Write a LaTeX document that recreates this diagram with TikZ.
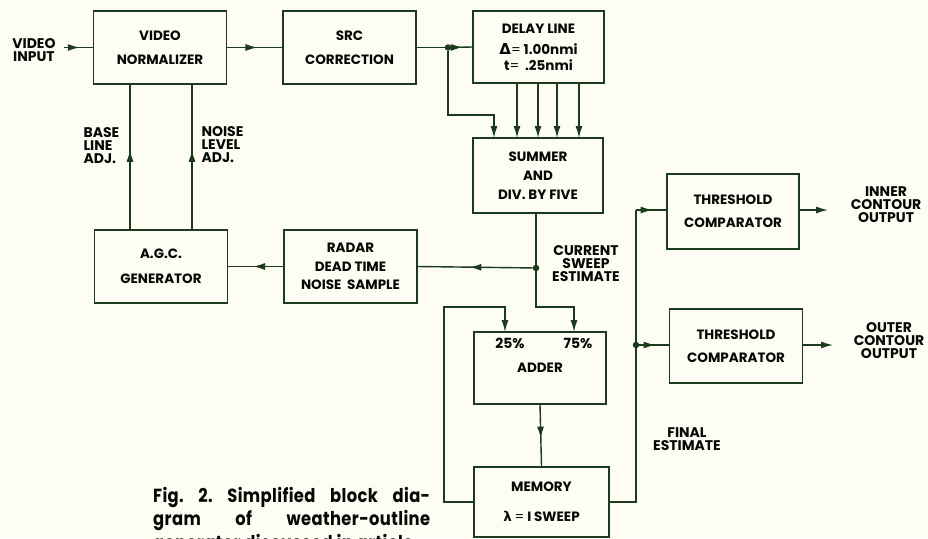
\documentclass[tikz,border=0pt]{standalone}
\usepackage{fontspec}
\setmainfont{Poppins}
\newfontfamily\grk{DejaVu Sans}
\newfontfamily\capfont[FakeStretch=0.86,LetterSpace=2]{Poppins}
\usetikzlibrary{arrows.meta,decorations.markings}
\definecolor{ink}{HTML}{1C3A1C}
\definecolor{paper}{HTML}{FDFDF4}
\tikzset{
  blk/.style={draw=ink, line width=1.6pt, minimum width=133pt, minimum height=73pt,
    align=center, text=black!85!ink, font=\bfseries\fontsize{13.5}{15}\selectfont},
  lbl/.style={align=center, text=black!85!ink, font=\bfseries\fontsize{14}{13}\selectfont},
  wire/.style={draw=ink, line width=1.4pt},
  arr/.style={wire, -{Latex[length=12pt,width=7pt]}},
  midarrow/.style={wire, postaction={decorate}, decoration={markings,
    mark=at position 0.55 with {\arrow{Latex[length=12pt,width=7pt]}}}},
  dot/.style={circle, fill=ink, inner sep=0pt, minimum size=6.5pt}
}
\begin{document}
\frenchspacing
\begin{tikzpicture}[x=1pt, y=-1pt]
    \fill[paper] (0,0) rectangle (928,538);
    \useasboundingbox (0,0) rectangle (928,538);
    \node[blk] (norm) at (160,47.5) {VIDEO\\[9pt]NORMALIZER};
    \node[blk] (src) at (349.5,47.5) {SRC\\[9pt]CORRECTION};
    \node[blk, minimum width=131pt, minimum height=72pt] (delay) at (538.5,47)
      {DELAY LINE\\[6pt]{\fontsize{15}{15}\selectfont{\grk\bfseries Δ}}{\mdseries =} 1.00nmi\\[1pt]t{\mdseries =}\ \ .25nmi};
    \node[blk, minimum width=130pt, minimum height=75pt] (summer) at (538,175.5)
      {SUMMER\\[4pt]AND\\[4pt]DIV. BY FIVE};
    \node[blk] (agc) at (161,266.5) {A.G.C.\\[10pt]GENERATOR};
    \node[blk] (radar) at (350.5,266.5) {RADAR\\[3.5pt]DEAD TIME\\[3.5pt]NOISE\ \ SAMPLE};
    \node[blk, minimum width=132pt, minimum height=75pt] (thra) at (733,211.5) {THRESHOLD\\[8pt]COMPARATOR};
    \node[blk, minimum height=74pt] (thrb) at (736,346) {THRESHOLD\\[8pt]COMPARATOR};
    \node[blk, minimum width=132pt, minimum height=72pt] (adder) at (540,368) {ADDER};
    \node[blk, minimum width=135pt, minimum height=70pt] (mem) at (541.5,502)
      {MEMORY\\[15pt]{\grk\bfseries λ} {\mdseries =} I SWEEP};
    \node[lbl] (vin) at (34,50) {VIDEO\\INPUT};
    \node[lbl, align=left, anchor=west] (base) at (80,146) {BASE\\LINE\\ADJ.};
    \node[lbl, align=left, anchor=west] (noise) at (198,145) {NOISE\\LEVEL\\ADJ.};
    \node[lbl] (cur) at (586,264) {CURRENT\\SWEEP\\ESTIMATE};
    \node[lbl] (fin) at (687,439) {FINAL\\ESTIMATE};
    \node[lbl] (inner) at (886,205) {INNER\\CONTOUR\\OUTPUT};
    \node[lbl] (outer) at (889,341) {OUTER\\CONTOUR\\OUTPUT};
    \node[lbl] (pa) at (510,343) {25\%};
    \node[lbl] (pb) at (578,343) {75\%};
    \node[align=left, anchor=north west, inner sep=0pt, text=black!85!ink,
      font=\capfont\bfseries\fontsize{19}{23.5}\selectfont] (cap) at (153,487)
      {\makebox[277pt][s]{Fig. 2. Simplified block dia-}\\
       \makebox[277pt][s]{gram of weather-outline}\\
       generator discussed in article.};
    \coordinate (vi) at (64,47.5);
    \node[dot] (da) at (448,47.5) {};
    \node[dot] (db) at (536,268) {};
    \node[dot] (dc) at (636,345) {};
    \coordinate (fa) at (636,210);
    \coordinate (fb) at (636,502);
    \coordinate (oa) at (828,210);
    \coordinate (ob) at (833,345);
    \path[midarrow] (vi) -- (norm.west);
    \path[midarrow] (norm.east) -- (src.west);
    \draw[wire] (src.east) -- (da);
    \path[midarrow] (da) -- (delay.west);
    \draw[arr] (da) |- (494,115) -- (494,138);
    \foreach \x in {517,538,557,579}
      \draw[arr] (\x,83) -- (\x,138);
    \draw[wire] (summer.south -| db) -- (db);
    \path[midarrow] (db) -- (radar.east);
    \path[midarrow] (radar.west) -- (agc.east);
    \path[midarrow] (agc.north -| 130,0) -- (norm.south -| 130,0);
    \path[midarrow] (agc.north -| 192,0) -- (norm.south -| 192,0);
    \draw[arr] (db) -- (536,307) -| (574,332);
    \draw[arr] (mem.west) -| (444,307) -| (505,332);
    \path[midarrow] (adder.south) -- (mem.north);
    \draw[wire] (mem.east |- fb) -- (fb) -- (dc);
    \draw[wire] (dc) -- (fa);
    \path[midarrow] (fa) -- (thra.west |- fa);
    \path[midarrow] (dc) -- (thrb.west |- dc);
    \draw[arr] (thra.east |- oa) -- (oa);
    \draw[arr] (thrb.east |- ob) -- (ob);
\end{tikzpicture}
\end{document}
